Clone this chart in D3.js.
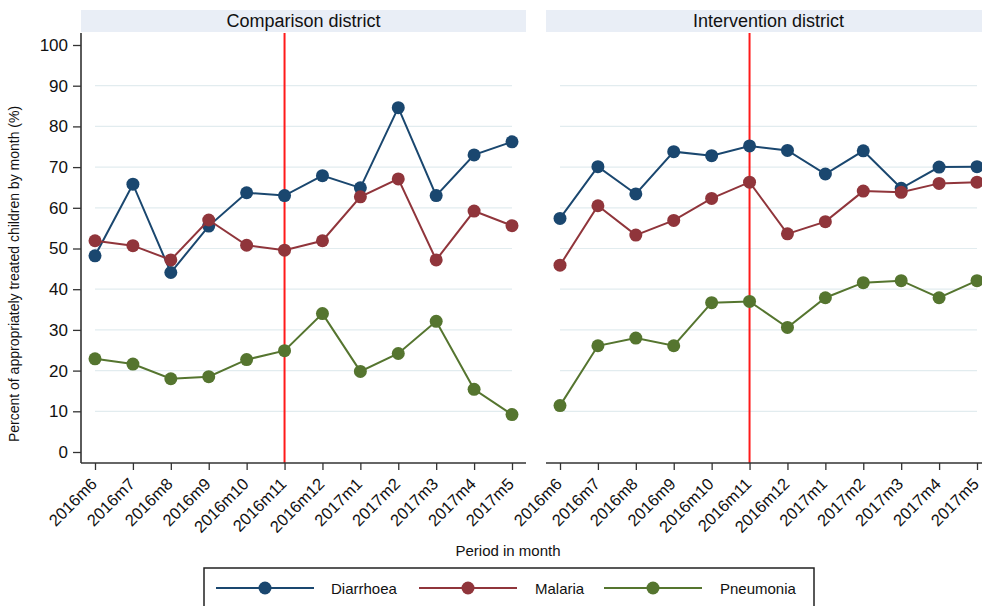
<!DOCTYPE html>
<html>
<head>
<meta charset="utf-8">
<script src="https://cdn.jsdelivr.net/npm/d3@7/dist/d3.min.js"></script>
<style>
  html, body { margin: 0; padding: 0; background: #fff; }
  svg { display: block; font-family: "Liberation Sans", Arial, sans-serif; }
</style>
</head>
<body>
<svg id="chart" width="982" height="606"></svg>
<script>
const months = ["2016m6","2016m7","2016m8","2016m9","2016m10","2016m11","2016m12","2017m1","2017m2","2017m3","2017m4","2017m5"];
const panels = ["Comparison district", "Intervention district"];
const seriesNames = ["Diarrhoea", "Malaria", "Pneumonia"];
const seriesColors = ["#1a476f", "#90353b", "#55752f"];
const yTicks = [0,10,20,30,40,50,60,70,80,90,100];
const gridTicks = [10,20,30,40,50,60,70,80,90];
const interventionMonth = "2016m11";

// Comparison district
const compDiarrhoea = [48.2, 65.8, 44.1, 55.5, 63.7, 63.0, 67.9, 64.9, 84.6, 63.0, 73.0, 76.2];
const compMalaria   = [51.9, 50.7, 47.2, 57.0, 50.8, 49.6, 51.9, 62.7, 67.1, 47.2, 59.2, 55.6];
const compPneumonia = [22.9, 21.6, 18.0, 18.5, 22.7, 24.9, 34.0, 19.8, 24.2, 32.1, 15.4, 9.2];
// Intervention district
const intDiarrhoea = [57.4, 70.1, 63.4, 73.8, 72.8, 75.2, 74.1, 68.3, 74.0, 64.8, 70.0, 70.1];
const intMalaria   = [45.9, 60.5, 53.3, 56.9, 62.3, 66.3, 53.6, 56.6, 64.1, 63.8, 66.0, 66.3];
const intPneumonia = [11.4, 26.1, 28.0, 26.1, 36.7, 37.0, 30.6, 37.9, 41.6, 42.1, 37.9, 42.1];

const panelData = [
  [compDiarrhoea, compMalaria, compPneumonia],
  [intDiarrhoea, intMalaria, intPneumonia]
];

const svg = d3.select("#chart");
const plotTop = 33, plotBottom = 463;
const panelLefts = [81, 546];
const panelWidth = 445;
const innerPad = 14;

const y = d3.scaleLinear().domain([0, 100]).range([452, 45]);

panels.forEach((title, pi) => {
  const left = panelLefts[pi];
  const g = svg.append("g").attr("transform", `translate(${left},0)`);
  const x = d3.scalePoint().domain(months).range([innerPad, panelWidth - innerPad]);

  // strip
  g.append("rect").attr("x", 0).attr("y", 10).attr("width", panelWidth).attr("height", 22)
    .attr("fill", "#e9eef6");
  g.append("text").attr("x", panelWidth / 2).attr("y", 27).attr("text-anchor", "middle")
    .attr("font-size", 18).attr("fill", "#111").text(title);

  // gridlines
  g.selectAll(".grid").data(gridTicks).enter().append("line")
    .attr("x1", x(months[0])).attr("x2", x(months[months.length - 1]))
    .attr("y1", d => y(d)).attr("y2", d => y(d))
    .attr("stroke", "#e2ecef").attr("stroke-width", 1.2);

  // red vertical line
  g.append("line").attr("x1", x(interventionMonth)).attr("x2", x(interventionMonth))
    .attr("y1", plotTop).attr("y2", plotBottom)
    .attr("stroke", "#ff1a1a").attr("stroke-width", 2);

  // x axis
  const xAxis = d3.axisBottom(x).tickSize(7).tickSizeOuter(0).tickFormat(() => "");
  const xg = g.append("g").attr("transform", `translate(0,${plotBottom})`).call(xAxis);
  xg.select(".domain").attr("d", `M0,0H${panelWidth}`).attr("stroke", "#333").attr("stroke-width", 1.6);
  xg.selectAll(".tick line").attr("stroke", "#333").attr("stroke-width", 1.3);

  // x labels rotated
  g.selectAll(".xlab").data(months).enter().append("text")
    .attr("transform", d => `translate(${x(d) + 3},${485}) rotate(-45)`)
    .attr("text-anchor", "end").attr("font-size", 16.5).attr("fill", "#111")
    .text(d => d);

  // y axis (left panel only)
  if (pi === 0) {
    const yAxis = d3.axisLeft(y).tickValues(yTicks).tickSize(8).tickSizeOuter(0).tickPadding(5);
    const yg = g.append("g").call(yAxis);
    yg.select(".domain").attr("d", `M0,${plotTop}V${plotBottom}`).attr("stroke", "#333").attr("stroke-width", 1.6);
    yg.selectAll(".tick line").attr("stroke", "#333").attr("stroke-width", 1.3);
    yg.selectAll(".tick text").attr("font-size", 17).attr("fill", "#111")
      .attr("font-family", "Liberation Sans, Arial, sans-serif");
  }

  // series
  const line = d3.line().x((d, i) => x(months[i])).y(d => y(d));
  panelData[pi].forEach((vals, si) => {
    g.append("path").datum(vals).attr("d", line).attr("fill", "none")
      .attr("stroke", seriesColors[si]).attr("stroke-width", 2);
    g.selectAll(null).data(vals).enter().append("circle")
      .attr("cx", (d, i) => x(months[i])).attr("cy", d => y(d)).attr("r", 6.5)
      .attr("fill", seriesColors[si]);
  });
});

// y title
svg.append("text").attr("transform", "translate(19,274) rotate(-90)")
  .attr("text-anchor", "middle").attr("font-size", 14).attr("fill", "#111")
  .text("Percent of appropriately treated children by month (%)");

// x title
svg.append("text").attr("x", 508).attr("y", 556).attr("text-anchor", "middle")
  .attr("font-size", 15).attr("fill", "#111").text("Period in month");

// legend
const legend = svg.append("g");
legend.append("rect").attr("x", 204).attr("y", 568).attr("width", 610).attr("height", 50)
  .attr("fill", "#fff").attr("stroke", "#222").attr("stroke-width", 1.5);
const legLineStart = [216, 419, 604];
const legTextStart = [331, 535, 720];
seriesNames.forEach((name, i) => {
  const ly = 588;
  legend.append("line").attr("x1", legLineStart[i]).attr("x2", legLineStart[i] + 98)
    .attr("y1", ly).attr("y2", ly).attr("stroke", seriesColors[i]).attr("stroke-width", 2);
  legend.append("circle").attr("cx", legLineStart[i] + 49).attr("cy", ly).attr("r", 6.5)
    .attr("fill", seriesColors[i]);
  legend.append("text").attr("x", legTextStart[i]).attr("y", ly + 5.5)
    .attr("font-size", 15).attr("fill", "#111").text(name);
});
</script>
</body>
</html>
